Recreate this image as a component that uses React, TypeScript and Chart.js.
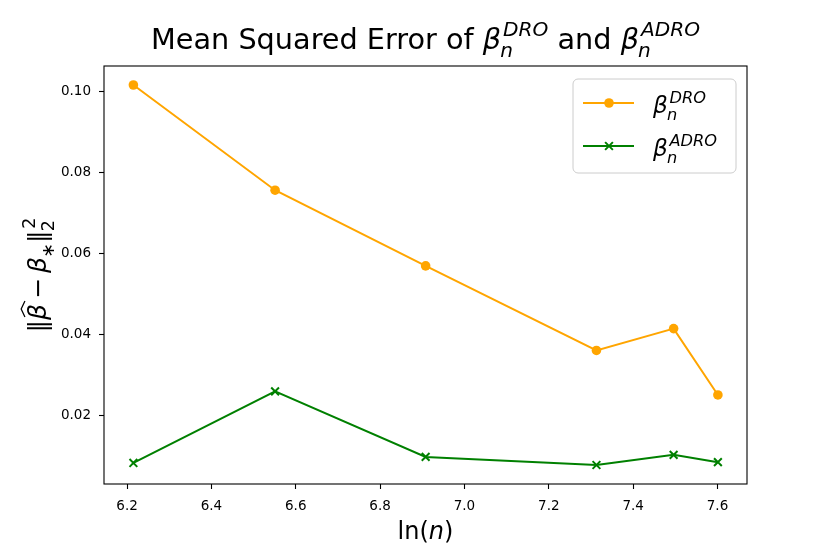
import React, { useEffect, useRef } from "react";
import { Chart, registerables } from "chart.js";

Chart.register(...registerables);

// ---- data ----
const lnN = [6.215, 6.551, 6.908, 7.313, 7.496, 7.601];
const mseDRO = [0.1016, 0.0756, 0.0569, 0.036, 0.0414, 0.025];
const mseADRO = [0.0082, 0.0259, 0.0097, 0.0077, 0.0102, 0.0084];
const xTicks = [6.2, 6.4, 6.6, 6.8, 7.0, 7.2, 7.4, 7.6];
const yTicks = [0.02, 0.04, 0.06, 0.08, 0.1];
const seriesNames = ["DRO", "ADRO"];
const titleText = "Mean Squared Error of ";
const xLabelText = "ln";

const FAM = "'DejaVu Sans'";
const ORANGE = "#FFA500";
const GREEN = "#008000";

type Tok = { t: string; it?: boolean; hat?: boolean; sub?: string; sup?: string; subIt?: boolean; supIt?: boolean };

function fnt(size: number, it: boolean) {
  return `${it ? "italic " : ""}${size}px ${FAM}`;
}

function runToks(ctx: CanvasRenderingContext2D, toks: Tok[], x: number, y: number, size: number, draw: boolean) {
  let cx = x;
  ctx.textAlign = "left";
  ctx.textBaseline = "alphabetic";
  for (const k of toks) {
    ctx.font = fnt(size, !!k.it);
    const w = ctx.measureText(k.t).width;
    if (draw) {
      ctx.fillText(k.t, cx, y);
      if (k.hat) {
        ctx.save();
        ctx.strokeStyle = ctx.fillStyle as string;
        ctx.lineWidth = Math.max(1, size * 0.05);
        ctx.beginPath();
        ctx.moveTo(cx + size * 0.12, y - size * 0.84);
        ctx.lineTo(cx + w / 2 + size * 0.12, y - size * 0.99);
        ctx.lineTo(cx + w + size * 0.12, y - size * 0.84);
        ctx.stroke();
        ctx.restore();
      }
    }
    cx += w;
    if (k.sub || k.sup) {
      const s = size * 0.7;
      let ws = 0;
      if (k.sub) {
        ctx.font = fnt(s, k.subIt !== false);
        const off = -size * 0.03;
        if (draw) ctx.fillText(k.sub, cx + off, y + size * 0.3);
        ws = Math.max(ws, ctx.measureText(k.sub).width + off);
      }
      if (k.sup) {
        ctx.font = fnt(s, k.supIt !== false);
        const off = size * 0.07;
        if (draw) ctx.fillText(k.sup, cx + off, y - size * 0.42);
        ws = Math.max(ws, ctx.measureText(k.sup).width + off);
      }
      cx += ws;
    }
  }
  return cx - x;
}

// draw tokens scaled so their width equals target width; left edge at x
function drawFit(ctx: CanvasRenderingContext2D, toks: Tok[], x: number, y: number, base: number, target: number) {
  const w = runToks(ctx, toks, 0, 0, base, false);
  const size = (base * target) / w;
  runToks(ctx, toks, x, y, size, true);
  return size;
}

const titleToks: Tok[] = [
  { t: titleText },
  { t: "β", it: true, sub: "n", sup: seriesNames[0] },
  { t: " and " },
  { t: "β", it: true, sub: "n", sup: seriesNames[1] },
];
const yLabelToks: Tok[] = [
  { t: "‖" },
  { t: "β", it: true, hat: true },
  { t: "\u2009−\u2009" },
  { t: "β", it: true, sub: "∗", subIt: false },
  { t: "‖", sub: "2", sup: "2", subIt: false, supIt: false },
];
const xLabelToks: Tok[] = [{ t: xLabelText + "(" }, { t: "n", it: true }, { t: ")" }];
const legendToks: Tok[][] = seriesNames.map((n) => [{ t: "β", it: true, sub: "n", sup: n }]);

const decor = {
  id: "decor",
  afterDatasetsDraw(chart: any) {
    const ctx: CanvasRenderingContext2D = chart.ctx;
    const a = chart.chartArea;
    ctx.save();
    // axes frame (all four spines)
    ctx.strokeStyle = "#000";
    ctx.lineWidth = 1.1;
    ctx.strokeRect(a.left, a.top, a.right - a.left, a.bottom - a.top);

    // legend
    const bw = 163, bh = 94, r = 5;
    const bx = a.right - 11 - bw;
    const by = a.top + 13;
    ctx.beginPath();
    ctx.moveTo(bx + r, by);
    ctx.arcTo(bx + bw, by, bx + bw, by + bh, r);
    ctx.arcTo(bx + bw, by + bh, bx, by + bh, r);
    ctx.arcTo(bx, by + bh, bx, by, r);
    ctx.arcTo(bx, by, bx + bw, by, r);
    ctx.closePath();
    ctx.fillStyle = "rgba(255,255,255,0.8)";
    ctx.fill();
    ctx.strokeStyle = "#cccccc";
    ctx.lineWidth = 1;
    ctx.stroke();

    const rows = [by + 24, by + 67];
    chart.data.datasets.forEach((ds: any, i: number) => {
      const yy = rows[i];
      ctx.strokeStyle = ds.borderColor;
      ctx.lineWidth = ds.borderWidth;
      ctx.beginPath();
      ctx.moveTo(bx + 10, yy);
      ctx.lineTo(bx + 61, yy);
      ctx.stroke();
      const mx = bx + 36;
      if (ds.pointStyle === "circle") {
        ctx.fillStyle = ds.borderColor;
        ctx.beginPath();
        ctx.arc(mx, yy, ds.pointRadius, 0, Math.PI * 2);
        ctx.fill();
      } else {
        const h = ds.pointRadius * 0.7071;
        ctx.lineWidth = ds.pointBorderWidth;
        ctx.beginPath();
        ctx.moveTo(mx - h, yy - h);
        ctx.lineTo(mx + h, yy + h);
        ctx.moveTo(mx - h, yy + h);
        ctx.lineTo(mx + h, yy - h);
        ctx.stroke();
      }
    });
    ctx.fillStyle = "#000";
    const targets = [57, 64];
    // uniform size for both legend labels, fitted on the wider one
    const w1 = runToks(ctx, legendToks[1], 0, 0, 22, false);
    const lsize = (22 * targets[1]) / w1;
    legendToks.forEach((tk, i) => {
      runToks(ctx, tk, bx + 80, rows[i] + 10, lsize, true);
    });
    ctx.restore();
  },
  afterDraw(chart: any) {
    const ctx: CanvasRenderingContext2D = chart.ctx;
    const a = chart.chartArea;
    ctx.save();
    ctx.fillStyle = "#000";
    // title
    const cx = (a.left + a.right) / 2;
    drawFit(ctx, titleToks, cx - 549 / 2, 48.5, 24, 549);
    // x label
    const wx = runToks(ctx, xLabelToks, 0, 0, 24, false);
    runToks(ctx, xLabelToks, cx - wx / 2, 538.5, 24, true);
    // y label (rotated)
    const cy = (a.top + a.bottom) / 2;
    ctx.translate(46, cy);
    ctx.rotate(-Math.PI / 2);
    drawFit(ctx, yLabelToks, -115 / 2, 0, 20, 115);
    ctx.restore();
  },
};

export default function App() {
  const ref = useRef<HTMLCanvasElement | null>(null);
  useEffect(() => {
    if (!ref.current) return;
    const chart = new Chart(ref.current, {
      type: "line",
      data: {
        datasets: [
          {
            label: seriesNames[0],
            data: lnN.map((x, i) => ({ x, y: mseDRO[i] })),
            borderColor: ORANGE,
            backgroundColor: ORANGE,
            borderWidth: 2,
            pointStyle: "circle",
            pointRadius: 4.8,
            pointBorderWidth: 0,
            pointBackgroundColor: ORANGE,
            pointBorderColor: ORANGE,
            tension: 0,
            fill: false,
          },
          {
            label: seriesNames[1],
            data: lnN.map((x, i) => ({ x, y: mseADRO[i] })),
            borderColor: GREEN,
            backgroundColor: GREEN,
            borderWidth: 2,
            pointStyle: "crossRot",
            pointRadius: 5.5,
            pointBorderWidth: 2,
            pointBackgroundColor: GREEN,
            pointBorderColor: GREEN,
            tension: 0,
            fill: false,
          },
        ],
      } as any,
      options: {
        animation: false,
        responsive: false,
        events: [],
        layout: { padding: { left: 0, right: 83, top: 66, bottom: 0 } },
        plugins: { legend: { display: false }, title: { display: false }, tooltip: { enabled: false } },
        scales: {
          x: {
            type: "linear",
            min: 6.1453,
            max: 7.67,
            afterBuildTicks: (s: any) => {
              s.ticks = xTicks.map((v) => ({ value: v }));
            },
            afterFit: (s: any) => {
              s.height = 70;
            },
            grid: { drawOnChartArea: false, drawTicks: true, tickLength: 5, tickWidth: 1.1, tickColor: "#000" },
            border: { display: false },
            ticks: {
              color: "#000",
              font: { family: FAM, size: 13.5 },
              padding: 9,
              maxRotation: 0,
              autoSkip: false,
              callback: (v: any) => Number(v).toFixed(1),
            },
          },
          y: {
            type: "linear",
            min: 0.003,
            max: 0.1063,
            afterBuildTicks: (s: any) => {
              s.ticks = yTicks.map((v) => ({ value: v }));
            },
            afterFit: (s: any) => {
              s.width = 104;
            },
            grid: { drawOnChartArea: false, drawTicks: true, tickLength: 5, tickWidth: 1.1, tickColor: "#000" },
            border: { display: false },
            ticks: {
              color: "#000",
              font: { family: FAM, size: 13.5 },
              padding: 8,
              autoSkip: false,
              callback: (v: any) => Number(v).toFixed(2),
            },
          },
        },
      } as any,
      plugins: [decor],
    });
    return () => chart.destroy();
  }, []);
  return (
    <div style={{ position: "absolute", left: 0, top: 0, width: 830, height: 554, background: "#fff" }}>
      <canvas ref={ref} width={830} height={554} style={{ width: 830, height: 554, display: "block" }} />
    </div>
  );
}
